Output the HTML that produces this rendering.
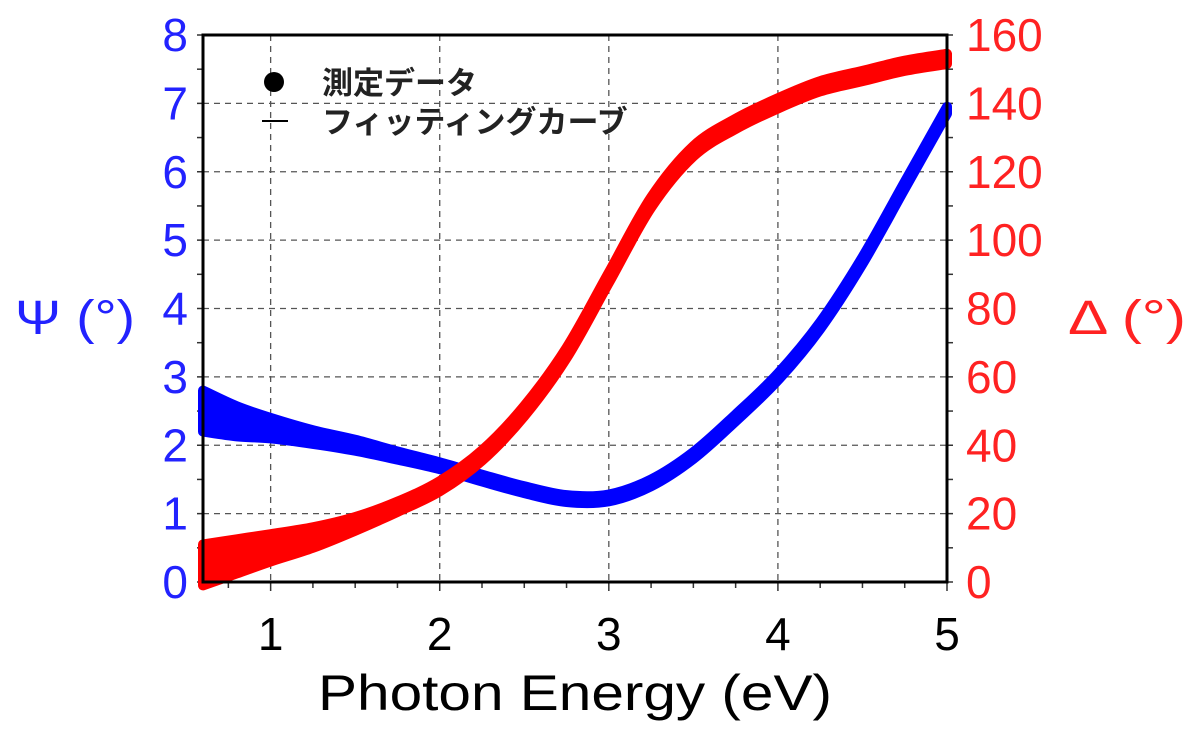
<!DOCTYPE html>
<html><head><meta charset="utf-8"><style>
html,body{margin:0;padding:0;background:#fff;width:1200px;height:736px;overflow:hidden}
text{font-family:"Liberation Sans","Noto Sans CJK JP",sans-serif}
</style></head><body>
<svg id="chart" width="1200" height="736" xmlns="http://www.w3.org/2000/svg"></svg>
<script>
const energies=[0.6,0.8,1.0,1.25,1.5,1.75,2.0,2.25,2.5,2.75,3.0,3.25,3.5,3.75,4.0,4.25,4.5,4.75,5.0];
const psiValues=[2.5,2.35,2.25,2.12,2.0,1.85,1.7,1.52,1.35,1.22,1.23,1.45,1.85,2.4,3.0,3.75,4.7,5.8,6.9];
const psiSpread=[0.3,0.22,0.15,0.1,0.08,0.06,0.05,0.05,0.05,0.05,0.05,0.05,0.05,0.05,0.05,0.05,0.05,0.05,0.05];
const deltaValues=[5,7.5,10,13,17,22,28,37,50,67,89,111,126,134,140,145,148,151,153];
const deltaSpread=[6,5,4,3,2,1.5,1.5,1.5,1.5,1.5,1.5,1.5,1.5,1.5,1.5,1.5,1.5,1.5,1.5];
const xTicks=[1,2,3,4,5];
const psiTicks=[0,1,2,3,4,5,6,7,8];
const deltaTicks=[0,20,40,60,80,100,120,140,160];
const L=203,R=947,T=35,B=582;
const X=v=>L+(v-0.6)/(5.0-0.6)*(R-L);
const YL=v=>B-v/8*(B-T);
const YR=v=>B-v/160*(B-T);
const svg=document.getElementById('chart');
const NS='http://www.w3.org/2000/svg';
function mk(tag,attrs,parent){const e=document.createElementNS(NS,tag);for(const k in attrs)e.setAttribute(k,attrs[k]);(parent||svg).appendChild(e);return e;}
const grid=mk('g',{});


xTicks.slice(0,4).forEach(v=>{mk('line',{x1:X(v),x2:X(v),y1:T,y2:B,stroke:'#555','stroke-width':1.3,'stroke-dasharray':'6,5'},grid);});
psiTicks.slice(1,8).forEach(v=>{mk('line',{x1:L,x2:R,y1:YL(v),y2:YL(v),stroke:'#555','stroke-width':1.3,'stroke-dasharray':'6,5'},grid);});
for(let v=0.75;v<=5.001;v+=0.25){mk('line',{x1:X(v),x2:X(v),y1:B,y2:B+(Math.abs(v-Math.round(v))<0.01?9:6),stroke:'#333','stroke-width':1.5});}
for(let v=0;v<=8.001;v+=0.5){mk('line',{x1:L-6,x2:L,y1:YL(v),y2:YL(v),stroke:'#333','stroke-width':1.5});mk('line',{x1:R,x2:R+6,y1:YL(v),y2:YL(v),stroke:'#333','stroke-width':1.5});}
function smooth(pts){
  let d='M'+pts[0][0]+','+pts[0][1];
  for(let i=0;i<pts.length-1;i++){
    const p0=pts[Math.max(0,i-1)],p1=pts[i],p2=pts[i+1],p3=pts[Math.min(pts.length-1,i+2)];
    const c1=[p1[0]+(p2[0]-p0[0])/6,p1[1]+(p2[1]-p0[1])/6];
    const c2=[p2[0]-(p3[0]-p1[0])/6,p2[1]-(p3[1]-p1[1])/6];
    d+='C'+c1[0]+','+c1[1]+' '+c2[0]+','+c2[1]+' '+p2[0]+','+p2[1];
  }
  return d;
}
function band(vals,spr,Y,color,name){
  const up=energies.map((e,i)=>[X(e),Y(vals[i]+spr[i])]);
  const dn=energies.map((e,i)=>[X(e),Y(vals[i]-spr[i])]).reverse();
  const d=smooth(up)+'L'+smooth(dn).slice(1)+'Z';
  const p=mk('path',{d:d,fill:color,stroke:color,'stroke-width':10,'stroke-linejoin':'round'});
  
  
}
band(psiValues,psiSpread,YL,'#0000ff','psi-series');
band(deltaValues,deltaSpread,YR,'#ff0000','delta-series');
const fr=mk('rect',{x:L,y:T,width:R-L,height:B-T,fill:'none',stroke:'#000','stroke-width':3});


xTicks.forEach(v=>{const t=mk('text',{x:X(v),y:650,'font-size':46,'text-anchor':'middle',fill:'#000'});t.textContent=v;

});
psiTicks.forEach(v=>{const t=mk('text',{x:188,y:YL(v)+16,'font-size':46,'text-anchor':'end',fill:'#2222ff'});t.textContent=v;

});
deltaTicks.forEach(v=>{const t=mk('text',{x:966,y:YR(v)+16,'font-size':46,'text-anchor':'start',fill:'#ff2222'});t.textContent=v;

});
</script>
<svg style="position:absolute;left:0;top:0" width="1200" height="736" xmlns="http://www.w3.org/2000/svg">
<text x="15" y="334" font-size="48" fill="#2222ff" textLength="120" lengthAdjust="spacingAndGlyphs">Ψ (°)</text>
<text x="1068" y="334" font-size="48" fill="#ff2222" textLength="118" lengthAdjust="spacingAndGlyphs">Δ (°)</text>
<text x="318" y="710" font-size="50" fill="#000" textLength="514" lengthAdjust="spacingAndGlyphs">Photon Energy (eV)</text>
<g>
<circle cx="274" cy="82" r="10" fill="#000"/>
<text x="322" y="94" font-size="31" font-weight="bold" fill="#222">測定データ</text>
<line x1="262" x2="288" y1="121" y2="121" stroke="#000" stroke-width="2"/>
<text x="322" y="133" font-size="31" font-weight="bold" fill="#222">フィッティングカーブ</text>
</g>
</svg>
</body></html>
